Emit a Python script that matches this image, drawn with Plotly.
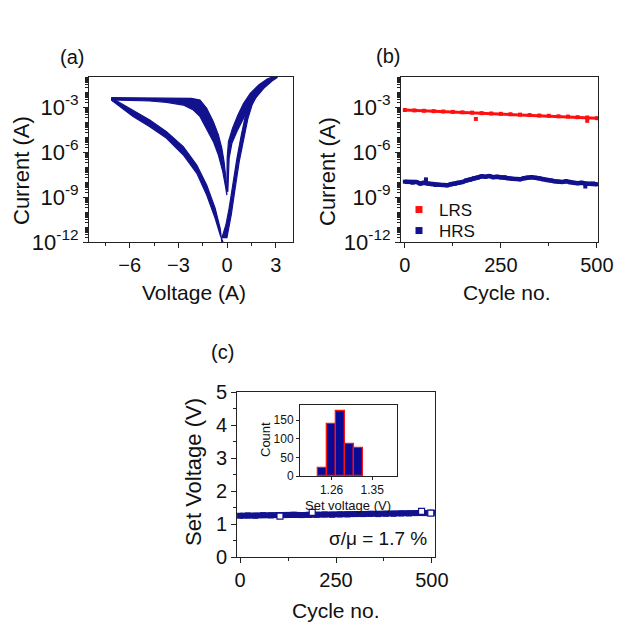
import numpy as np
import plotly.graph_objects as go

W, H = 627, 628
NAVY = "#12128f"
RED = "#ff1010"
FONT = "Liberation Sans, Arial, sans-serif"

# ---------------- (a) I-V sweeps: band edges (voltage in V, log10 of current in A) ----------------
neg_lrs_outer_v = [-7.13, -4.76, -3.0, -2.2, -1.67, -1.26, -0.85, -0.54, -0.33, -0.19, -0.08, -0.02]
neg_lrs_outer_logi = [-2.38, -2.38, -2.38, -2.42, -2.53, -3.09, -3.98, -4.87, -5.75, -6.65, -7.75, -8.87]
neg_lrs_inner_v = [-7.13, -4.76, -3.73, -2.7, -2.08, -1.67, -1.26, -0.85, -0.54, -0.27, -0.08]
neg_lrs_inner_logi = [-2.53, -2.6, -2.69, -2.87, -3.2, -3.64, -4.42, -5.31, -6.2, -7.31, -8.42]

neg_hrs_upper_v = [-7.13, -5.79, -4.76, -3.73, -2.7, -1.87, -1.26, -0.74, -0.43, -0.33]
neg_hrs_upper_logi = [-2.38, -3.2, -3.87, -4.64, -5.64, -6.87, -8.2, -9.75, -11.09, -11.98]
neg_hrs_lower_v = [-7.13, -5.79, -4.76, -3.73, -2.7, -1.87, -1.26, -0.74, -0.43, -0.19]
neg_hrs_lower_logi = [-2.53, -3.64, -4.31, -5.09, -6.2, -7.42, -8.87, -10.42, -11.53, -12.2]

pos_lrs_left_v = [-0.02, 0.0, 0.08, 0.33, 0.66, 1.01, 1.42, 1.94, 2.46, 2.97]
pos_lrs_left_logi = [-8.65, -6.42, -5.31, -4.42, -3.53, -2.75, -2.09, -1.53, -1.13, -0.93]
pos_lrs_right_v = [0.04, 0.12, 0.29, 0.6, 0.95, 1.32, 1.73, 2.25, 2.76, 3.07]
pos_lrs_right_logi = [-8.65, -6.42, -5.42, -4.64, -3.87, -3.09, -2.42, -1.75, -1.27, -1.04]

pos_hrs_left_v = [-0.33, -0.08, 0.12, 0.33, 0.6, 0.87, 1.11, 1.42, 1.73, 2.04]
pos_hrs_left_logi = [-11.75, -10.87, -9.75, -8.2, -6.42, -4.87, -3.64, -2.64, -1.98, -1.53]
pos_hrs_right_v = [-0.02, 0.25, 0.49, 0.74, 1.01, 1.28, 1.53, 1.84, 2.15]
pos_hrs_right_logi = [-11.75, -10.2, -8.42, -6.65, -5.09, -3.75, -2.87, -2.2, -1.75]

current_tick_vals = [1e-12, 1e-9, 1e-6, 1e-3]
current_tick_text = ["10<sup>-12</sup>", "10<sup>-9</sup>", "10<sup>-6</sup>", "10<sup>-3</sup>"]

# ---------------- (b) endurance ----------------
lrs_cycle = [0, 25, 50, 75, 100, 125, 150, 175, 200, 225, 250, 275, 300, 325, 350, 375, 400, 425, 450, 475, 500]
lrs_current = [6.3e-4, 5.9e-4, 5.6e-4, 5.3e-4, 5.0e-4, 4.7e-4, 4.4e-4, 4.2e-4, 3.9e-4, 3.7e-4, 3.5e-4,
               3.3e-4, 3.1e-4, 2.9e-4, 2.7e-4, 2.6e-4, 2.4e-4, 2.3e-4, 2.1e-4, 2.0e-4, 1.8e-4]
lrs_outlier_cycle = [185, 475]
lrs_outlier_current = [1.6e-4, 1.2e-4]

hrs_cycle = list(range(0, 501, 10))
hrs_current = [1.05e-8, 1.0e-8, 8.9e-9, 1.0e-8, 7.9e-9, 8.9e-9, 7.9e-9, 7.1e-9, 6.3e-9, 6.6e-9,
               6.3e-9, 6.0e-9, 7.1e-9, 7.6e-9, 8.9e-9, 1.0e-8, 1.26e-8, 1.41e-8, 1.78e-8, 2.0e-8,
               2.4e-8, 2.24e-8, 2.5e-8, 2.1e-8, 2.24e-8, 2.0e-8, 2.1e-8, 1.78e-8, 1.66e-8, 1.58e-8,
               1.51e-8, 1.78e-8, 2.0e-8, 2.1e-8, 1.9e-8, 1.78e-8, 1.51e-8, 1.32e-8, 1.26e-8, 1.12e-8,
               1.05e-8, 1.0e-8, 1.12e-8, 9.5e-9, 8.9e-9, 8.3e-9, 8.9e-9, 7.9e-9, 7.6e-9, 7.9e-9, 7.1e-9]
hrs_outlier_cycle = [55, 470]
hrs_outlier_current = [1.5e-8, 5.0e-9]

# ---------------- (c) set voltage ----------------
set_cycle = list(range(0, 501, 20))
set_voltage = [1.25, 1.26, 1.25, 1.27, 1.26, 1.27, 1.27, 1.28, 1.27, 1.28, 1.28, 1.29, 1.28,
               1.29, 1.29, 1.30, 1.30, 1.31, 1.30, 1.31, 1.31, 1.32, 1.32, 1.33, 1.33, 1.34]
set_outlier_cycle = [104, 188, 473, 497]
set_outlier_voltage = [1.24, 1.35, 1.38, 1.33]

hist_bin_center = [1.24, 1.26, 1.28, 1.30, 1.32]
hist_count = [22, 140, 176, 86, 76]
hist_bin_width = 0.02


def px_x(p):
    return p / W


def px_y(p):
    return 1 - p / H


fig = go.Figure()


def band(v1, l1, v2, l2, xa, ya):
    xs = list(v1) + list(v2)[::-1]
    ys = list(10.0 ** np.array(l1)) + list(10.0 ** np.array(l2))[::-1]
    fig.add_trace(go.Scatter(x=xs, y=ys, mode="lines", fill="toself", fillcolor=NAVY,
                             line=dict(color=NAVY, width=1.2), showlegend=False,
                             hoverinfo="skip", xaxis=xa, yaxis=ya))


band(neg_lrs_outer_v, neg_lrs_outer_logi, neg_lrs_inner_v, neg_lrs_inner_logi, "x", "y")
band(neg_hrs_upper_v, neg_hrs_upper_logi, neg_hrs_lower_v, neg_hrs_lower_logi, "x", "y")
band(pos_lrs_left_v, pos_lrs_left_logi, pos_lrs_right_v, pos_lrs_right_logi, "x", "y")
band(pos_hrs_left_v, pos_hrs_left_logi, pos_hrs_right_v, pos_hrs_right_logi, "x", "y")

# (b)
fig.add_trace(go.Scatter(x=lrs_cycle, y=lrs_current, mode="lines+markers",
                         line=dict(color=RED, width=3), marker=dict(symbol="square", size=4, color=RED),
                         showlegend=False, xaxis="x2", yaxis="y2"))
fig.add_trace(go.Scatter(x=lrs_outlier_cycle, y=lrs_outlier_current, mode="markers",
                         marker=dict(symbol="square", size=4, color=RED),
                         showlegend=False, xaxis="x2", yaxis="y2"))
fig.add_trace(go.Scatter(x=hrs_cycle, y=hrs_current, mode="lines+markers",
                         line=dict(color=NAVY, width=4.5), marker=dict(symbol="square", size=4, color=NAVY),
                         showlegend=False, xaxis="x2", yaxis="y2"))
fig.add_trace(go.Scatter(x=hrs_outlier_cycle, y=hrs_outlier_current, mode="markers",
                         marker=dict(symbol="square", size=4, color=NAVY),
                         showlegend=False, xaxis="x2", yaxis="y2"))
fig.add_trace(go.Scatter(x=[None], y=[None], mode="markers", name="LRS", legend="legend",
                         marker=dict(symbol="square", size=7, color=RED), xaxis="x2", yaxis="y2"))
fig.add_trace(go.Scatter(x=[None], y=[None], mode="markers", name="HRS", legend="legend2",
                         marker=dict(symbol="square", size=7, color=NAVY), xaxis="x2", yaxis="y2"))

# (c)
fig.add_trace(go.Scatter(x=set_cycle, y=set_voltage, mode="lines+markers",
                         line=dict(color=NAVY, width=6), marker=dict(symbol="square", size=6, color=NAVY),
                         showlegend=False, xaxis="x3", yaxis="y3"))
fig.add_trace(go.Scatter(x=set_outlier_cycle, y=set_outlier_voltage, mode="markers",
                         marker=dict(symbol="square", size=6, color="white", line=dict(color=NAVY, width=1.2)),
                         showlegend=False, xaxis="x3", yaxis="y3"))
# inset histogram
fig.add_trace(go.Bar(x=hist_bin_center, y=hist_count, width=hist_bin_width,
                     marker=dict(color="#0a0a96", line=dict(color=RED, width=1.3)),
                     showlegend=False, xaxis="x4", yaxis="y4"))

axis_common = dict(showline=True, linecolor="#222", linewidth=1, mirror=True, showgrid=False,
                   zeroline=False, ticks="outside", ticklen=5, tickcolor="#222", automargin=False,
                   tickfont=dict(family=FONT, size=20, color="#111"))

log_minor_vals = [d * 10.0 ** e for e in range(-12, -1) for d in range(1, 10)]
log_y = dict(axis_common, type="log", range=[-12, -1], tickmode="array",
             tickvals=current_tick_vals, ticktext=current_tick_text,
             tickfont=dict(family=FONT, size=22, color="#111"),
             minor=dict(ticks="outside", ticklen=3, tickmode="array", tickvals=log_minor_vals,
                        tickcolor="#222"))

legend_style = dict(xanchor="left", yanchor="top", bgcolor="rgba(0,0,0,0)", borderwidth=0,
                    font=dict(family=FONT, size=17, color="#111"))

fig.update_layout(
    width=W, height=H, margin=dict(l=0, r=0, t=0, b=0, pad=0, autoexpand=False),
    paper_bgcolor="white", plot_bgcolor="white",
    font=dict(family=FONT, color="#111"),
    xaxis=dict(axis_common, domain=[px_x(89), px_x(293)], range=[-8.5, 4.05], anchor="y",
               tickvals=[-6, -3, 0, 3], minor=dict(ticks="outside", ticklen=3, dtick=1.5, tickcolor="#222")),
    yaxis=dict(log_y, domain=[px_y(242), px_y(77)], anchor="x"),
    xaxis2=dict(axis_common, domain=[px_x(401), px_x(598)], range=[-10, 503], anchor="y2",
                tickvals=[0, 250, 500], minor=dict(ticks="outside", ticklen=3, dtick=125, tickcolor="#222")),
    yaxis2=dict(log_y, domain=[px_y(242), px_y(77)], anchor="x2"),
    xaxis3=dict(axis_common, domain=[px_x(237), px_x(435)], range=[-8, 508], anchor="y3",
                tickvals=[0, 250, 500], minor=dict(ticks="outside", ticklen=3, dtick=125, tickcolor="#222")),
    yaxis3=dict(axis_common, domain=[px_y(557), px_y(392)], range=[0, 5], anchor="x3",
                dtick=1, minor=dict(ticks="outside", ticklen=3, dtick=0.5, tickcolor="#222")),
    xaxis4=dict(axis_common, domain=[px_x(300), px_x(397)], range=[1.19, 1.405], anchor="y4",
                tickvals=[1.26, 1.35], ticklen=3, tickfont=dict(family=FONT, size=12, color="#111")),
    yaxis4=dict(axis_common, domain=[px_y(476), px_y(405)], range=[0, 191], anchor="x4",
                tickvals=[0, 50, 100, 150], ticklen=3, tickfont=dict(family=FONT, size=12, color="#111")),
    legend=dict(legend_style, x=px_x(399), y=px_y(192)),
    legend2=dict(legend_style, x=px_x(399), y=px_y(213)),
    bargap=0,
)

annotations = [
    ("(a)", 72, 57, 20, 0), ("(b)", 388, 56, 20, 0), ("(c)", 222, 352, 20, 0),
    ("Current (A)", 21, 171, 22, -90), ("Current (A)", 327, 171, 22, -90),
    ("Voltage (A)", 194, 293, 21, 0), ("Cycle no.", 507, 293, 21, 0),
    ("Set Voltage (V)", 193, 472, 22, -90), ("Cycle no.", 336, 610, 21, 0),
    ("σ/μ = 1.7 %", 378, 538, 19, 0),
    ("Count", 265, 440, 13, -90), ("Set voltage (V)", 348, 505, 13, 0),
]
for text, x, y, size, ang in annotations:
    fig.add_annotation(text=text, x=px_x(x), y=px_y(y), xref="paper", yref="paper",
                       showarrow=False, textangle=ang, xanchor="center", yanchor="middle",
                       font=dict(family=FONT, size=size, color="#111"))

fig.write_html("out.html", config={"displayModeBar": False},
               post_script="document.body.style.margin='0';document.body.style.overflow='hidden';")
